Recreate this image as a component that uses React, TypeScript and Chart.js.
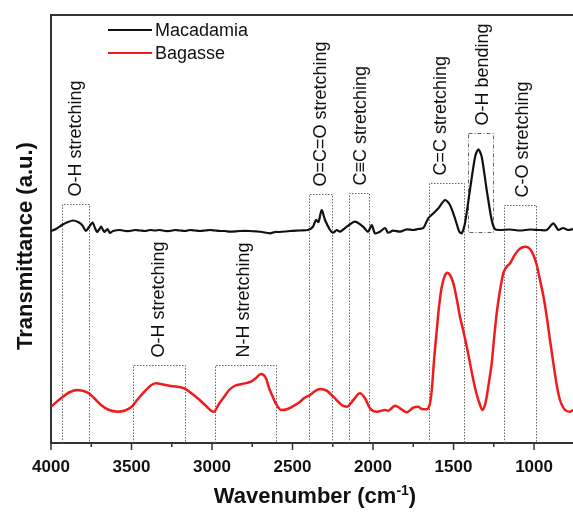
import React, { useEffect, useRef } from "react";
import { Chart, registerables } from "chart.js";

Chart.register(...registerables);

// ---- Data ----
const seriesNames = ["Macadamia", "Bagasse"];

const macadamiaWavenumbers = [
  4000, 3969, 3932, 3894, 3863, 3832, 3807, 3783, 3764, 3742, 3727, 3714, 3699, 3689, 3677, 3668, 3649, 3634, 3615,
  3571, 3540, 3509, 3478, 3447, 3416, 3385, 3354, 3323, 3292, 3261, 3230, 3199, 3168, 3137, 3106, 3075, 3043, 3012,
  2981, 2950, 2919, 2888, 2826, 2764, 2720, 2689, 2640, 2609, 2578, 2516, 2453, 2404, 2373, 2354, 2339, 2319, 2298,
  2267, 2248, 2225, 2205, 2163, 2112, 2062, 2031, 2008, 1988, 1957, 1925, 1907, 1876, 1832, 1791, 1752, 1720, 1688,
  1657, 1625, 1594, 1553, 1522, 1491, 1464, 1449, 1429, 1398, 1366, 1346, 1325, 1294, 1263, 1242, 1211, 1149, 1087,
  1025, 963, 921, 880, 849, 820, 789, 758,
];
const macadamiaValues = [
  212, 214, 218, 221, 222.5, 221, 218, 212, 216, 220.5, 215, 211, 214, 216.5, 213, 211, 214, 210, 212,
  213, 212, 212, 213, 212.5, 212, 213, 212.5, 213, 212, 212, 213, 212.5, 212, 213, 212.5, 212, 212.5, 213,
  212.5, 212, 212, 211.3, 212, 212, 211.5, 211, 209.7, 211, 211, 212, 212.5, 213, 216.3, 223, 221, 233, 223,
  213, 210.3, 213, 211.3, 216.3, 221.3, 216.3, 211.3, 218, 209.7, 211.3, 215, 210.3, 212.3, 211.3, 213.7, 213, 214, 215,
  224.7, 229.7, 234.7, 243, 238, 224.7, 211.3, 209.7, 219.7, 253, 286.3, 293.7, 286.3, 253, 223, 213.7, 213, 213.5, 212.5,
  213.5, 213, 213, 219.7, 213, 215, 213, 214,
];

const bagasseWavenumbers = [
  4000, 3938, 3882, 3834, 3772, 3733, 3689, 3646, 3586, 3540, 3503, 3460, 3420, 3385, 3348, 3305, 3255, 3172, 3130,
  3089, 3043, 2989, 2957, 2924, 2894, 2861, 2814, 2758, 2727, 2696, 2665, 2646, 2623, 2602, 2571, 2540, 2509, 2453,
  2427, 2391, 2360, 2329, 2288, 2247, 2195, 2163, 2122, 2081, 2050, 2019, 1977, 1925, 1905, 1863, 1832, 1791, 1750,
  1719, 1698, 1667, 1646, 1635, 1621, 1604, 1589, 1573, 1555, 1538, 1522, 1501, 1480, 1460, 1439, 1418, 1398, 1377,
  1357, 1339, 1320, 1305, 1294, 1280, 1263, 1248, 1232, 1211, 1191, 1171, 1149, 1124, 1097, 1075, 1050, 1025, 1004,
  983, 963, 942, 921, 901, 880, 859, 839, 807, 777, 758,
];
const bagasseValues = [
  36.3, 44.7, 51, 53, 50.3, 45, 38, 33.5, 31.3, 32.5, 35.7, 44, 51.3, 57, 59.7, 58.5, 57, 54.7, 50,
  44.7, 38, 31.3, 39, 46.3, 53, 57, 59, 61.3, 65, 69, 64.7, 55, 46.3, 39, 33, 33.5, 35.7, 41.3,
  45, 48, 52, 54, 52.3, 46.3, 38, 36.3, 43, 49.7, 44.7, 34.7, 31.3, 33, 32.3, 37.3, 34.7, 30.7, 35.3,
  36.3, 34, 33.7, 39.7, 53, 83, 113, 138, 156.3, 167, 170.3, 168, 159.7, 144, 126.3, 112, 96.3, 80, 63,
  49, 39.7, 33, 38, 46.3, 61, 79.7, 105, 129.7, 153, 169.7, 176, 179.7, 187, 193, 195.5, 196.3, 194, 188,
  178, 163, 147, 126.3, 103, 79.7, 58, 43, 33, 31.3, 33,
];

const xTickValues = [4000, 3500, 3000, 2500, 2000, 1500, 1000];

const bandLabels = [
  "O-H stretching",
  "O-H stretching",
  "N-H stretching",
  "O=C=O stretching",
  "C\u2261C stretching",
  "C=C stretching",
  "O-H bending",
  "C-O stretching",
];
const bandFrom = [3934, 3489, 2981, 2398, 2149, 1652, 1408, 1186];
const bandTo = [3762, 3168, 2604, 2253, 2023, 1433, 1253, 990];
const bandTop = [239, 78, 78, 249, 250, 260, 310, 238];
const bandBottom = [0, 0, 0, 0, 0, 0, 211, 0];
const bandLabelAt = [3851, 3335, 2807, 2329, 2081, 1584, 1325, 1073];

const xTitleMain = "Wavenumber (cm";
const xTitleSup = "-1";
const xTitleEnd = ")";
const yTitle = "Transmittance (a.u.)";

const FONT = "'Liberation Sans', Arial, Helvetica, sans-serif";
const RED = "#f01c1c";

const decorPlugin = {
  id: "decor",
  beforeDatasetsDraw(chart: any) {
    const { ctx, scales } = chart;
    const xs = scales.x;
    const ys = scales.y;
    ctx.save();
    bandLabels.forEach((label, i) => {
      const x1 = Math.round(xs.getPixelForValue(bandFrom[i])) + 0.5;
      const x2 = Math.round(xs.getPixelForValue(bandTo[i])) + 0.5;
      const yt = Math.round(ys.getPixelForValue(bandTop[i])) + 0.5;
      const yb = ys.getPixelForValue(bandBottom[i]);
      const closed = bandBottom[i] > 0;
      ctx.strokeStyle = "#666";
      ctx.lineWidth = 1;
      ctx.setLineDash(closed ? [4, 2, 1, 2] : [1.5, 1.5]);
      ctx.beginPath();
      if (closed) {
        ctx.rect(x1, yt, x2 - x1, Math.round(yb) + 0.5 - yt);
      } else {
        ctx.moveTo(x1, yb);
        ctx.lineTo(x1, yt);
        ctx.lineTo(x2, yt);
        ctx.lineTo(x2, yb);
      }
      ctx.stroke();
      ctx.setLineDash([]);
      ctx.save();
      ctx.translate(xs.getPixelForValue(bandLabelAt[i]), yt - 8);
      ctx.rotate(-Math.PI / 2);
      ctx.fillStyle = "#111";
      ctx.font = `18px ${FONT}`;
      ctx.textAlign = "left";
      ctx.textBaseline = "middle";
      ctx.fillText(label, 0, 1);
      ctx.restore();
    });
    ctx.restore();
  },
  afterDraw(chart: any) {
    const { ctx, chartArea, scales } = chart;
    const xs = scales.x;
    ctx.save();
    // top border
    ctx.strokeStyle = "#333";
    ctx.lineWidth = 2;
    ctx.beginPath();
    ctx.moveTo(chartArea.left, chartArea.top);
    ctx.lineTo(chartArea.right, chartArea.top);
    ctx.stroke();
    // ticks (major & minor)
    ctx.lineWidth = 1.5;
    for (let v = 4000; v >= xs.min; v -= 250) {
      const px = xs.getPixelForValue(v);
      const len = v % 500 === 0 ? 7 : 4;
      ctx.beginPath();
      ctx.moveTo(px, chartArea.bottom);
      ctx.lineTo(px, chartArea.bottom + len);
      ctx.stroke();
    }
    // legend
    const legendY = [30, 53];
    const legendColors = ["#111", RED];
    seriesNames.forEach((name, i) => {
      ctx.strokeStyle = legendColors[i];
      ctx.lineWidth = 2;
      ctx.beginPath();
      ctx.moveTo(108, legendY[i]);
      ctx.lineTo(152, legendY[i]);
      ctx.stroke();
      ctx.fillStyle = "#111";
      ctx.font = `18px ${FONT}`;
      ctx.textAlign = "left";
      ctx.textBaseline = "middle";
      ctx.fillText(name, 155, legendY[i] + 1);
    });
    // x title with superscript
    ctx.fillStyle = "#111";
    ctx.textBaseline = "alphabetic";
    ctx.textAlign = "left";
    const big = `bold 22px ${FONT}`;
    const small = `bold 14px ${FONT}`;
    ctx.font = big;
    const w1 = ctx.measureText(xTitleMain).width;
    const w3 = ctx.measureText(xTitleEnd).width;
    ctx.font = small;
    const w2 = ctx.measureText(xTitleSup).width;
    const total = w1 + w2 + w3;
    const cx = (chartArea.left + chartArea.right) / 2 + 3;
    let sx = cx - total / 2;
    const by = 503;
    ctx.font = big;
    ctx.fillText(xTitleMain, sx, by);
    sx += w1;
    ctx.font = small;
    ctx.fillText(xTitleSup, sx, by - 8);
    sx += w2;
    ctx.font = big;
    ctx.fillText(xTitleEnd, sx, by);
    // y title
    ctx.save();
    ctx.translate(32, 246);
    ctx.rotate(-Math.PI / 2);
    ctx.font = big;
    ctx.textAlign = "center";
    ctx.textBaseline = "alphabetic";
    ctx.fillText(yTitle, 0, 0);
    ctx.restore();
    ctx.restore();
  },
};

export default function App() {
  const canvasRef = useRef<HTMLCanvasElement | null>(null);

  useEffect(() => {
    if (!canvasRef.current) return;
    const macData = macadamiaWavenumbers.map((x, i) => ({ x, y: macadamiaValues[i] }));
    const bagData = bagasseWavenumbers.map((x, i) => ({ x, y: bagasseValues[i] }));
    const chart = new Chart(canvasRef.current, {
      type: "line",
      data: {
        datasets: [
          {
            label: seriesNames[0],
            data: macData,
            borderColor: "#111",
            borderWidth: 2.2,
            pointRadius: 0,
            tension: 0.25,
          },
          {
            label: seriesNames[1],
            data: bagData,
            borderColor: RED,
            borderWidth: 2.5,
            pointRadius: 0,
            cubicInterpolationMode: "monotone",
          },
        ],
      },
      options: {
        animation: false,
        responsive: false,
        devicePixelRatio: 1,
        layout: { padding: { top: 15, left: 0, right: 0, bottom: 0 } },
        plugins: {
          legend: { display: false },
          tooltip: { enabled: false },
          title: { display: false },
        },
        scales: {
          x: {
            type: "linear",
            reverse: true,
            min: 758,
            max: 4000,
            grid: { display: false, drawTicks: false },
            border: { display: true, color: "#333", width: 2 },
            ticks: {
              maxRotation: 0,
              autoSkip: false,
              padding: 14,
              color: "#111",
              font: { family: FONT, size: 17, weight: "bold" },
              callback: (v: any) => String(v),
            },
            afterBuildTicks: (scale: any) => {
              scale.ticks = xTickValues.map((v) => ({ value: v }));
            },
            afterFit: (scale: any) => {
              scale.height = 69;
              scale.paddingLeft = 0;
              scale.paddingRight = 0;
            },
          },
          y: {
            type: "linear",
            min: 0,
            max: 428,
            grid: { display: false, drawTicks: false },
            border: { display: true, color: "#333", width: 2 },
            ticks: { display: false },
            afterFit: (scale: any) => {
              scale.width = 51;
            },
          },
        },
      },
      plugins: [decorPlugin],
    });
    return () => chart.destroy();
  }, []);

  return (
    <div style={{ position: "absolute", left: 0, top: 0, width: 573, height: 512, background: "#fff" }}>
      <canvas ref={canvasRef} width={573} height={512} style={{ display: "block" }} />
    </div>
  );
}
